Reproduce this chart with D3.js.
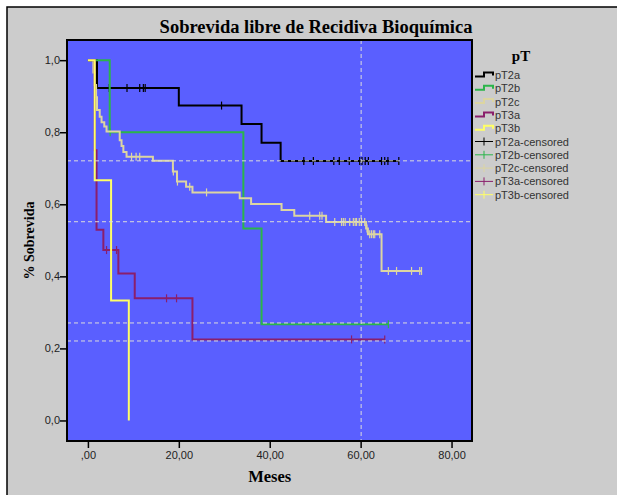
<!DOCTYPE html>
<html>
<head>
<meta charset="utf-8">
<script src="https://cdn.jsdelivr.net/npm/d3@7"></script>
<style>
  body { margin: 0; background: #fff; }
  svg { display: block; }
</style>
</head>
<body>
<svg id="chart" width="617" height="495"></svg>
<script>
// Kaplan-Meier groups
const groups = ["pT2a", "pT2b", "pT2c", "pT3a", "pT3b"];
const groupColors = ["#000000", "#2bb54a", "#dcd5a2", "#8a1f6c", "#ffff66"];

// event times (months) and survival after each drop
const pT2aTimes = [2.0, 20.0, 33.8, 38.2, 42.4];
const pT2aSurv = [0.923, 0.874, 0.823, 0.771, 0.720];
const pT2aCensored = [4.7, 8.6, 11.4, 12.2, 12.6, 29.4, 47.5, 49.6, 54.1, 55.3, 57.5, 59.8, 60.3, 61.0, 61.7, 64.6, 65.3, 66.0, 68.4];

const pT2bTimes = [4.8, 34.2, 38.2];
const pT2bSurv = [0.80, 0.533, 0.267];
const pT2bCensored = [4.9, 66.1];

const pT2cTimes = [1.2, 1.5, 1.8, 2.0, 2.6, 3.0, 3.6, 4.1, 7.0, 7.4, 7.8, 8.5, 14.3, 18.7, 19.6, 21.6, 23.0, 33.4, 35.9, 42.6, 45.4, 52.4, 61.2, 61.6, 64.6];
const pT2cSurv = [0.966, 0.931, 0.897, 0.862, 0.843, 0.828, 0.816, 0.802, 0.778, 0.762, 0.745, 0.732, 0.721, 0.691, 0.663, 0.649, 0.633, 0.617, 0.601, 0.584, 0.568, 0.551, 0.533, 0.517, 0.415];
const pT2cCensored = [9.6, 10.6, 11.4, 18.8, 19.7, 22.4, 26.1, 48.8, 51.0, 51.5, 54.3, 55.8, 56.2, 56.6, 57.6, 58.4, 58.8, 59.1, 59.7, 60.2, 60.9, 61.4, 62.0, 62.4, 62.8, 63.1, 64.2, 66.1, 67.9, 71.2, 73.0, 73.4];

const pT3aTimes = [1.5, 1.9, 3.4, 6.7, 10.3, 23.0];
const pT3aSurv = [0.75, 0.529, 0.473, 0.408, 0.339, 0.225];
const pT3aCensored = [4.1, 6.3, 17.3, 19.5, 58.0, 65.3];

const pT3bTimes = [1.5, 5.1, 9.0];
const pT3bSurv = [0.667, 0.333, 0.0];
const pT3bCensored = [];

const endTimes = [68.4, 66.1, 73.4, 65.3, 9.0];

const xTicks = [0, 20, 40, 60, 80];
const xTickLabels = [",00", "20,00", "40,00", "60,00", "80,00"];
const yTicks = [0, 0.2, 0.4, 0.6, 0.8, 1.0];
const yTickLabels = ["0,0", "0,2", "0,4", "0,6", "0,8", "1,0"];

// reference lines
const refY = [0.722, 0.553, 0.272, 0.222];
const refX = [60];

const series = [
  { times: pT2aTimes, surv: pT2aSurv, cens: pT2aCensored },
  { times: pT2bTimes, surv: pT2bSurv, cens: pT2bCensored },
  { times: pT2cTimes, surv: pT2cSurv, cens: pT2cCensored },
  { times: pT3aTimes, surv: pT3aSurv, cens: pT3aCensored },
  { times: pT3bTimes, surv: pT3bSurv, cens: pT3bCensored }
].map((s, i) => ({ ...s, name: groups[i], color: groupColors[i], end: endTimes[i] }));

const svg = d3.select("#chart");
const plot = { left: 67, right: 472, top: 40, bottom: 441 };

const x = d3.scaleLinear().domain([-4.6, 84.5]).range([plot.left, plot.right]);
const y = d3.scaleLinear().domain([-0.057, 1.056]).range([plot.bottom, plot.top]);

// outer panel
svg.append("rect")
  .attr("x", 7).attr("y", 7).attr("width", 620).attr("height", 500)
  .attr("fill", "#cccccc").attr("stroke", "#000").attr("stroke-width", 1.5);

svg.append("text")
  .attr("x", 316).attr("y", 33)
  .attr("text-anchor", "middle")
  .style("font", "bold 18.5px 'Liberation Serif', 'DejaVu Serif', serif")
  .text("Sobrevida libre de Recidiva Bioquímica");

// plot area
svg.append("rect")
  .attr("x", plot.left).attr("y", plot.top)
  .attr("width", plot.right - plot.left).attr("height", plot.bottom - plot.top)
  .attr("fill", "#5a5fff");

svg.append("clipPath").attr("id", "clip")
  .append("rect")
  .attr("x", plot.left).attr("y", plot.top)
  .attr("width", plot.right - plot.left).attr("height", plot.bottom - plot.top);

const g = svg.append("g").attr("clip-path", "url(#clip)");

function stepPoints(s) {
  const pts = [[0, 1]];
  let cur = 1;
  s.times.forEach((t, i) => {
    pts.push([t, cur]);
    cur = s.surv[i];
    pts.push([t, cur]);
  });
  pts.push([s.end, cur]);
  return pts;
}

function survAt(s, t) {
  let cur = 1;
  s.times.forEach((tt, i) => { if (tt <= t) cur = s.surv[i]; });
  return cur;
}

const line = d3.line().x(d => x(d[0])).y(d => y(d[1]));

series.forEach(s => {
  g.append("path")
    .attr("d", line(stepPoints(s)))
    .attr("fill", "none")
    .attr("stroke", s.color)
    .attr("stroke-width", 2);

  g.selectAll(null)
    .data(s.cens)
    .join("line")
    .attr("x1", t => x(t)).attr("x2", t => x(t))
    .attr("y1", t => y(survAt(s, t)) - 4)
    .attr("y2", t => y(survAt(s, t)) + 4)
    .attr("stroke", s.color)
    .attr("stroke-width", 1.2);
});

// dashed reference lines on top
g.selectAll(null)
  .data(refY)
  .join("line")
  .attr("x1", plot.left).attr("x2", plot.right)
  .attr("y1", d => y(d) + 0.5).attr("y2", d => y(d) + 0.5)
  .attr("stroke", "#dcdcdc").attr("stroke-width", 1)
  .attr("stroke-dasharray", "4,3");

g.selectAll(null)
  .data(refX)
  .join("line")
  .attr("x1", d => x(d) + 0.5).attr("x2", d => x(d) + 0.5)
  .attr("y1", plot.top).attr("y2", plot.bottom)
  .attr("stroke", "#dcdcdc").attr("stroke-width", 1)
  .attr("stroke-dasharray", "4,3");

svg.append("rect")
  .attr("x", plot.left).attr("y", plot.top)
  .attr("width", plot.right - plot.left).attr("height", plot.bottom - plot.top)
  .attr("fill", "none").attr("stroke", "#000").attr("stroke-width", 2);

// axes
const xAxis = d3.axisBottom(x).tickValues(xTicks)
  .tickFormat((d, i) => xTickLabels[i]).tickSize(7).tickSizeOuter(0).tickPadding(3);
const xg = svg.append("g").attr("transform", `translate(0,${plot.bottom})`).call(xAxis);
xg.select(".domain").remove();
xg.selectAll("line").attr("stroke", "#000").attr("stroke-width", 1.5);
xg.selectAll("text").style("font", "11px 'Liberation Sans', Arial, sans-serif").attr("fill", "#222");

const yAxis = d3.axisLeft(y).tickValues(yTicks)
  .tickFormat((d, i) => yTickLabels[i]).tickSize(7).tickSizeOuter(0).tickPadding(0);
const yg = svg.append("g").attr("transform", `translate(${plot.left},0)`).call(yAxis);
yg.select(".domain").remove();
yg.selectAll("line").attr("stroke", "#000").attr("stroke-width", 1.5);
yg.selectAll("text").style("font", "11px 'Liberation Sans', Arial, sans-serif").attr("fill", "#222");

svg.append("text")
  .attr("x", x(40)).attr("y", 482)
  .attr("text-anchor", "middle")
  .style("font", "bold 16.5px 'Liberation Serif', 'DejaVu Serif', serif")
  .text("Meses");

svg.append("text")
  .attr("transform", `translate(34,${(plot.top + plot.bottom) / 2}) rotate(-90)`)
  .attr("text-anchor", "middle")
  .style("font", "bold 14px 'Liberation Serif', 'DejaVu Serif', serif")
  .text("% Sobrevida");

// legend
const legendItems = groups.map((n, i) => ({ label: n, color: groupColors[i], censored: false }))
  .concat(groups.map((n, i) => ({ label: n + "-censored", color: groupColors[i], censored: true })));

svg.append("text")
  .attr("x", 521).attr("y", 61)
  .attr("text-anchor", "middle")
  .style("font", "bold 15px 'Liberation Serif', 'DejaVu Serif', serif")
  .text("pT");

const lg = svg.append("g");
const legRow = lg.selectAll("g")
  .data(legendItems)
  .join("g")
  .attr("transform", (d, i) => `translate(475,${75 + i * 13.3})`);

legRow.filter(d => !d.censored).append("path")
  .attr("d", "M0,1.5H9V-2.5H18V0.5")
  .attr("fill", "none")
  .attr("stroke", d => d.color)
  .attr("stroke-width", 2);

legRow.filter(d => d.censored).append("path")
  .attr("d", "M0,0H18M9,-4V4")
  .attr("fill", "none")
  .attr("stroke", d => d.color)
  .attr("stroke-width", 1);

legRow.append("text")
  .attr("x", 20).attr("y", 4)
  .style("font", "11px 'Liberation Sans', Arial, sans-serif")
  .attr("fill", "#333")
  .text(d => d.label);
</script>
</body>
</html>
